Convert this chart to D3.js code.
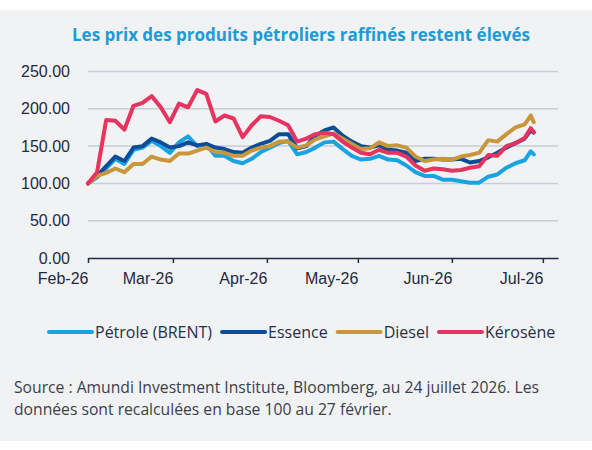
<!DOCTYPE html>
<html>
<head>
<meta charset="utf-8">
<script src="https://cdn.jsdelivr.net/npm/d3@7"></script>
<style>
  html, body { margin: 0; padding: 0; background: #fff; }
  svg { display: block; font-family: "Open Sans", "Noto Sans", sans-serif; }
</style>
</head>
<body>
<svg id="chart" width="592" height="450"></svg>
<script>
// données en base 100 (27 février)
const dates = [
  '2026-02-27', '2026-03-02', '2026-03-05', '2026-03-08', '2026-03-11', '2026-03-14', '2026-03-17', '2026-03-20',
  '2026-03-23', '2026-03-26', '2026-03-29', '2026-04-01', '2026-04-04', '2026-04-07', '2026-04-10', '2026-04-13',
  '2026-04-16', '2026-04-19', '2026-04-22', '2026-04-25', '2026-04-28', '2026-05-01', '2026-05-04', '2026-05-07',
  '2026-05-10', '2026-05-13', '2026-05-16', '2026-05-19', '2026-05-22', '2026-05-25', '2026-05-28', '2026-05-31',
  '2026-06-03', '2026-06-06', '2026-06-09', '2026-06-12', '2026-06-15', '2026-06-18', '2026-06-21', '2026-06-24',
  '2026-06-27', '2026-06-30', '2026-07-03', '2026-07-06', '2026-07-09', '2026-07-12', '2026-07-15', '2026-07-18',
  '2026-07-21', '2026-07-23', '2026-07-24'
];
const brent = [
  100, 108, 120, 133, 126, 145, 148, 157, 150, 141, 155, 163, 150, 152, 137, 137,
  130, 127, 133, 142, 148, 154, 157, 139, 142, 148, 155, 156, 146, 137, 132, 133,
  137, 132, 131, 124, 115, 110, 110, 105, 105, 103, 101, 101, 109, 112, 121, 127,
  131, 143, 139
];
const essence = [
  100, 110, 123, 136, 130, 148, 150, 160, 155, 148, 150, 155, 151, 153, 148, 146,
  142, 141, 148, 153, 157, 166, 166, 147, 150, 164, 171, 175, 164, 156, 150, 148,
  151, 145, 144, 141, 130, 133, 133, 132, 132, 133, 128, 130, 135, 141, 148, 154,
  160, 171, 168
];
const diesel = [
  100, 110, 114, 120, 115, 126, 126, 136, 132, 130, 140, 140, 144, 148, 142, 141,
  137, 137, 144, 148, 150, 156, 156, 148, 151, 159, 163, 167, 160, 153, 146, 147,
  155, 150, 151, 148, 136, 130, 132, 133, 132, 136, 138, 141, 158, 156, 166, 175,
  179, 191, 182
];
const kerosene = [
  100, 115, 185, 184, 172, 204, 208, 217, 202, 182, 207, 202, 225, 220, 183, 191,
  187, 162, 178, 190, 189, 184, 178, 156, 160, 166, 168, 166, 156, 148, 141, 139,
  145, 141, 141, 136, 124, 117, 120, 119, 117, 118, 121, 123, 138, 137, 150, 154,
  161, 174, 169
];

const seriesNames = ['Pétrole (BRENT)', 'Essence', 'Diesel', 'Kérosène'];
const seriesColors = ['#19a3e0', '#0b4d98', '#c8973b', '#e6335f'];
const tickDates = ['2026-02-27', '2026-03-27', '2026-04-27', '2026-05-27', '2026-06-27', '2026-07-27'];
const yTicks = [0, 50, 100, 150, 200, 250];

const parseDate = d3.timeParse('%Y-%m-%d');
const width = 592, height = 450;
const plot = { left: 88, right: 558, top: 71.5, bottom: 258 };

const svg = d3.select('#chart');

// fond gris du panneau
svg.append('rect')
  .attr('x', 0).attr('y', 10)
  .attr('width', width).attr('height', 431)
  .attr('fill', '#f1f2f4');

// titre
svg.append('text')
  .attr('x', 301).attr('y', 41)
  .attr('text-anchor', 'middle')
  .attr('font-size', 18)
  .attr('font-weight', 700)
  .attr('fill', '#1c9bd8')
  .attr('textLength', 458)
  .attr('lengthAdjust', 'spacingAndGlyphs')
  .text('Les prix des produits pétroliers raffinés restent élevés');

const x = d3.scaleUtc()
  .domain([parseDate('2026-02-27'), parseDate('2026-08-01')])
  .range([plot.left, plot.right]);
const y = d3.scaleLinear()
  .domain([0, 250])
  .range([plot.bottom, plot.top]);

// grille horizontale
svg.append('g')
  .selectAll('line')
  .data(yTicks.filter(v => v > 0))
  .join('line')
  .attr('x1', plot.left).attr('x2', plot.right)
  .attr('y1', d => y(d)).attr('y2', d => y(d))
  .attr('stroke', '#c8ced6')
  .attr('stroke-width', 1.5);

// axe y (étiquettes seulement)
svg.append('g')
  .attr('transform', `translate(${plot.left},0)`)
  .call(d3.axisLeft(y).tickValues(yTicks).tickFormat(d3.format('.2f')).tickSize(0).tickPadding(18))
  .call(g => g.select('.domain').remove())
  .call(g => g.selectAll('text')
    .attr('font-family', null)
    .attr('font-size', 16)
    .attr('fill', '#222a40'));

// axe x
svg.append('g')
  .attr('transform', `translate(0,${plot.bottom})`)
  .call(d3.axisBottom(x)
    .tickValues(tickDates.map(parseDate))
    .tickFormat(d3.utcFormat('%b-%y'))
    .tickSize(5)
    .tickSizeOuter(0))
  .call(g => g.select('.domain').attr('stroke', '#1f2b48').attr('stroke-width', 1.5))
  .call(g => g.selectAll('.tick line').attr('stroke', '#1f2b48').attr('stroke-width', 1.5))
  .call(g => g.selectAll('.tick text')
    .attr('font-family', null)
    .attr('font-size', 16)
    .attr('fill', '#222a40')
    .attr('text-anchor', 'end')
    .attr('y', 15)
    .attr('dy', '0.71em'));

// courbes
const allSeries = [brent, essence, diesel, kerosene].map((values, i) => ({
  name: seriesNames[i],
  color: seriesColors[i],
  points: values.map((v, j) => ({ date: parseDate(dates[j]), value: v }))
}));

const line = d3.line()
  .x(d => x(d.date))
  .y(d => y(d.value));

svg.append('g')
  .selectAll('path')
  .data(allSeries)
  .join('path')
  .attr('fill', 'none')
  .attr('stroke', d => d.color)
  .attr('stroke-width', 4)
  .attr('stroke-linejoin', 'round')
  .attr('stroke-linecap', 'round')
  .attr('d', d => line(d.points));

// légende
const legend = svg.append('g').attr('transform', 'translate(49,332)');
let lx = 0;
allSeries.forEach(s => {
  legend.append('line')
    .attr('x1', lx).attr('x2', lx + 43)
    .attr('y1', 0).attr('y2', 0)
    .attr('stroke', s.color)
    .attr('stroke-width', 4)
    .attr('stroke-linecap', 'round');
  const t = legend.append('text')
    .attr('x', lx + 46).attr('y', 0)
    .attr('dy', '0.35em')
    .attr('font-size', 16)
    .attr('fill', '#263049')
    .text(s.name);
  lx += 46 + t.node().getComputedTextLength() + 10;
});

// source
const source = svg.append('text')
  .attr('x', 14)
  .attr('font-size', 15.7)
  .attr('fill', '#3b404b');
source.append('tspan').attr('x', 14).attr('y', 393)
  .text('Source : Amundi Investment Institute, Bloomberg, au 24 juillet 2026. Les');
source.append('tspan').attr('x', 14).attr('y', 415)
  .text('données sont recalculées en base 100 au 27 février.');
</script>
</body>
</html>
